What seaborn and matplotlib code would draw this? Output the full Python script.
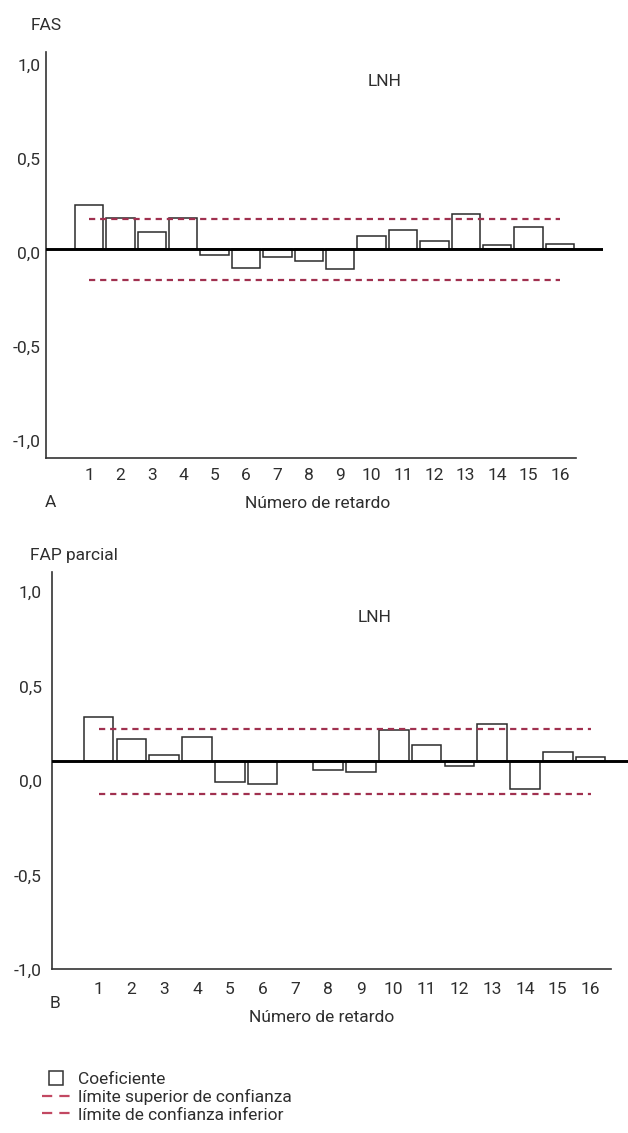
import numpy as np
import pandas as pd
import matplotlib
matplotlib.use("Agg")
import matplotlib.pyplot as plt
import matplotlib.transforms as mtransforms
from matplotlib.lines import Line2D
from matplotlib.legend_handler import HandlerLine2D
import seaborn as sns

# ---------------- data ----------------
lags = list(range(1, 17))
fas_values = [0.235, 0.165, 0.094, 0.165, -0.030, -0.101, -0.043, -0.062,
              -0.105, 0.068, 0.101, 0.043, 0.188, 0.021, 0.116, 0.027]
fap_values = [0.235, 0.115, 0.032, 0.129, -0.110, -0.124, 0.0, -0.048,
              -0.057, 0.164, 0.085, -0.025, 0.195, -0.149, 0.048, 0.023]
fas_ci_upper = 0.160
fas_ci_lower = -0.163
fap_ci_upper = 0.170
fap_ci_lower = -0.175
y_ticks = [-1.0, -0.5, 0.0, 0.5, 1.0]
y_tick_labels = ["-1,0", "-0,5", "0,0", "0,5", "1,0"]
x_tick_labels = [str(k) for k in lags]
panel_titles = ["FAS", "FAP parcial"]
series_name = "LNH"
panel_letters = ["A", "B"]
x_label = "Número de retardo"
legend_labels = ["Coeficiente", "límite superior de confianza",
                 "límite de confianza inferior"]

# ---------------- style ----------------
sns.set_theme(style="white")
plt.rcParams['font.family'] = ['Roboto', 'DejaVu Sans']
TXT = "#2e2e2e"
AXC = "#333333"
CI_COLOR = "#a0304f"
FS = 12.5

W, H = 628, 1133
fig = plt.figure(figsize=(W / 100, H / 100), dpi=100)


def box(l, t, r, b):
    return [l / W, 1 - b / H, (r - l) / W, (b - t) / H]


def fx(x):
    return x / W


def fy(y):
    return 1 - y / H


panels = [
    dict(rect=box(46, 52, 603, 458), values=fas_values,
         up=fas_ci_upper, lo=fas_ci_lower,
         xlim=(-0.37, 17.37), spine_end=16.51, ylim=(-1.110, 1.049),
         label_dy=3.5, ypad=4.0, xpad=7.4,
         title=panel_titles[0], title_xy=(31, 25),
         name_xy=(385, 82), letter=panel_letters[0], letter_xy=(50, 502),
         xlabel_xy=(318, 504)),
    dict(rect=box(52, 572, 628, 969.3), values=fap_values,
         up=fap_ci_upper, lo=fap_ci_lower,
         xlim=(-0.42, 17.14), spine_end=16.63, ylim=(-1.102, 1.0),
         label_dy=20, ypad=7.5, xpad=9.4,
         title=panel_titles[1], title_xy=(30, 555),
         name_xy=(375, 617), letter=panel_letters[1], letter_xy=(55, 1003),
         xlabel_xy=(322, 1018)),
]

for p in panels:
    ax = fig.add_axes(p["rect"])
    df = pd.DataFrame({"lag": lags, "value": p["values"]})
    sns.barplot(data=df, x="lag", y="value", native_scale=True, width=0.9,
                color="white", saturation=1, edgecolor="#2b2b2b",
                linewidth=1.1, errorbar=None, ax=ax, zorder=2)
    ci = pd.DataFrame({"lag": lags,
                       "up": [p["up"]] * len(lags),
                       "lo": [p["lo"]] * len(lags)})
    for col in ["up", "lo"]:
        ax.plot(ci["lag"], ci[col], color=CI_COLOR, lw=1.6,
                linestyle=(0, (2.8, 2.2)), zorder=3)
    ax.axhline(0, color="black", lw=2.1, zorder=4)

    ax.set_xlim(*p["xlim"])
    ax.set_ylim(*p["ylim"])
    ax.set_xticks(lags, x_tick_labels)
    ax.set_yticks(y_ticks, y_tick_labels)
    ax.set_xlabel("")
    ax.set_ylabel("")
    ax.tick_params(axis="x", length=0, labelsize=FS, colors=TXT, pad=p["xpad"])
    ax.tick_params(axis="y", length=0, labelsize=FS, colors=TXT, pad=p["ypad"])
    for s in ["top", "right"]:
        ax.spines[s].set_visible(False)
    for s in ["left", "bottom"]:
        ax.spines[s].set_color(AXC)
        ax.spines[s].set_linewidth(1.2)
    ax.spines["bottom"].set_bounds(p["xlim"][0], p["spine_end"])
    ax.grid(False)
    ax.patch.set_alpha(0)

    off = mtransforms.ScaledTranslation(0, -p["label_dy"] / 100, fig.dpi_scale_trans)
    for lab in ax.get_yticklabels():
        lab.set_transform(lab.get_transform() + off)

    fig.text(fx(p["title_xy"][0]), fy(p["title_xy"][1]), p["title"],
             ha="left", va="center", fontsize=FS, color=TXT)
    fig.text(fx(p["name_xy"][0]), fy(p["name_xy"][1]), series_name,
             ha="center", va="center", fontsize=FS, color=TXT)
    fig.text(fx(p["letter_xy"][0]), fy(p["letter_xy"][1]), p["letter"],
             ha="center", va="center", fontsize=FS, color=TXT)
    fig.text(fx(p["xlabel_xy"][0]), fy(p["xlabel_xy"][1]), x_label,
             ha="center", va="center", fontsize=FS, color=TXT)


class RightMarkerHandler(HandlerLine2D):
    def get_xdata(self, legend, xdescent, ydescent, width, height, fontsize):
        xdata, xm = super().get_xdata(legend, xdescent, ydescent, width,
                                      height, fontsize)
        return xdata, [-xdescent + 0.68 * width]


coef_handle = Line2D([], [], marker="s", markersize=10.5, markerfacecolor="white",
                     markeredgecolor=AXC, markeredgewidth=1.1, linestyle="none")
ci_handle1 = Line2D([], [], color="#c24862", lw=1.6, linestyle=(0, (4.6, 3.2)))
ci_handle2 = Line2D([], [], color="#c24862", lw=1.6, linestyle=(0, (4.6, 3.2)))
fig.legend([coef_handle, ci_handle1, ci_handle2], legend_labels, loc="upper left",
           bbox_to_anchor=(fx(42), fy(1072)), frameon=False, fontsize=FS,
           handlelength=1.6, handletextpad=0.45, labelspacing=0.12,
           borderaxespad=0, borderpad=0, labelcolor=TXT,
           handler_map={coef_handle: RightMarkerHandler(numpoints=1)})

fig.savefig("out.png", dpi=100)
